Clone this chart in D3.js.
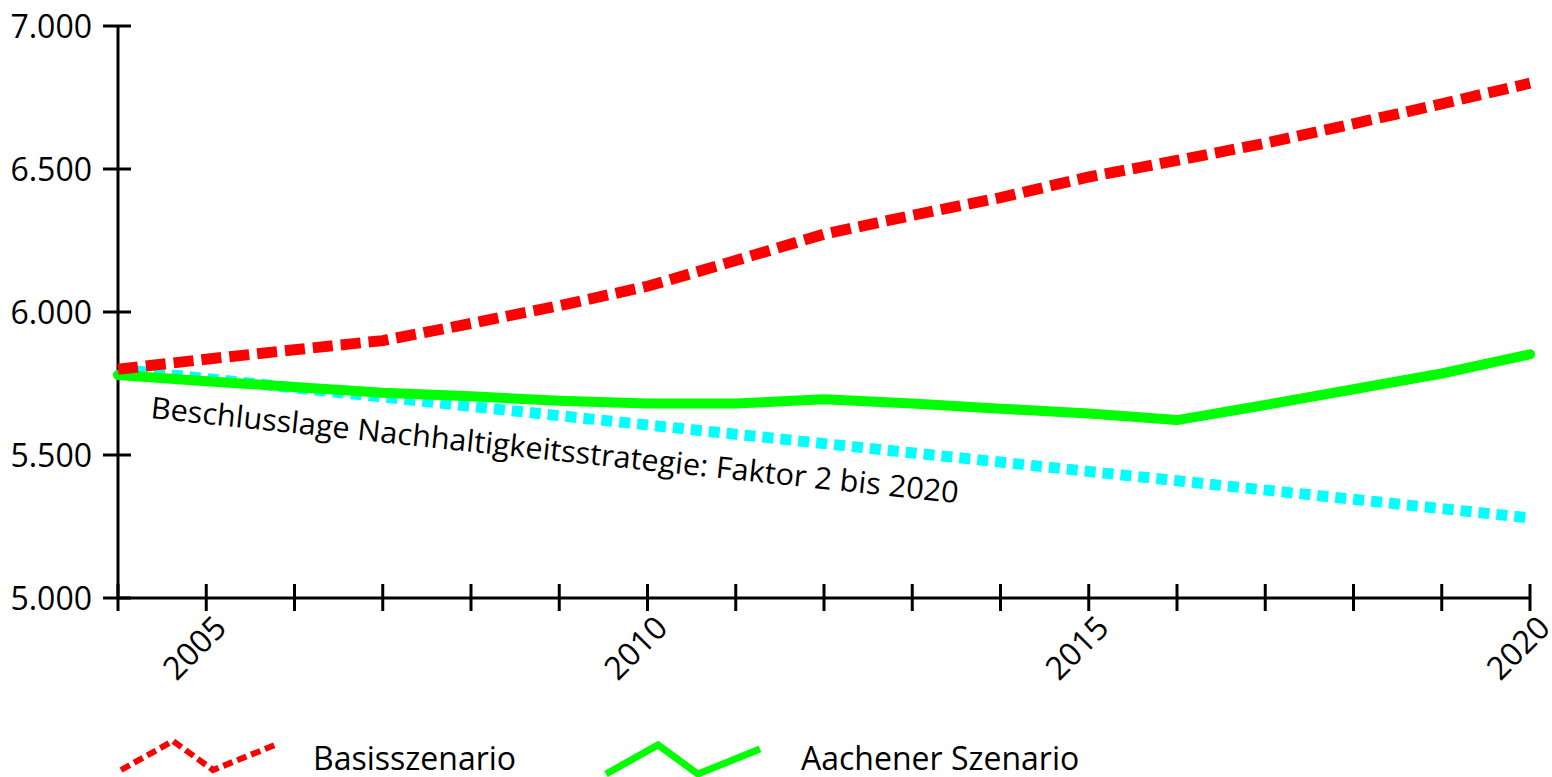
<!DOCTYPE html>
<html><head><meta charset="utf-8">
<script src="https://cdn.jsdelivr.net/npm/d3@7"></script>
<style>
html,body{margin:0;padding:0;background:#fff;}
svg{display:block;}
text{font-family:"Open Sans","Noto Sans",sans-serif;fill:#000;}
</style></head>
<body><svg id="c" width="1552" height="777"></svg>
<script>
const years = [2004,2005,2006,2007,2008,2009,2010,2011,2012,2013,2014,2015,2016,2017,2018,2019,2020];
const basis = [5800,5835,5868,5900,5960,6022,6090,6180,6272,6338,6400,6472,6530,6590,6658,6728,6800];
const aachen = [5780,5758,5738,5718,5705,5690,5680,5680,5695,5680,5662,5645,5622,5675,5730,5785,5852];
const faktorYears = [2004,2020];
const faktor = [5800,5280];
const yTicks = [5000,5500,6000,6500,7000];
const xLabelYears = [2005,2010,2015,2020];
const labelText = "Beschlusslage Nachhaltigkeitsstrategie: Faktor 2 bis 2020";
const legendNames = ["Basisszenario","Aachener Szenario"];

const svg = d3.select("#c");
const x = d3.scaleLinear().domain([2004,2020]).range([118,1530]);
const y = d3.scaleLinear().domain([5000,7000]).range([598,26]);
const fmt = d => d3.format(",")(d).replace(/,/g,".");

// axes
const yAxis = svg.append("g").attr("transform","translate(118,0)")
  .call(d3.axisLeft(y).tickValues(yTicks).tickSize(0).tickFormat(fmt));
yAxis.select(".domain").remove();
yAxis.selectAll("text").attr("x",-26).attr("dy","0.35em").style("font-size","32px").style("font-family","'Open Sans',sans-serif");
svg.append("g").selectAll("line").data(yTicks).join("line")
  .attr("x1",103).attr("x2",131).attr("y1",d=>y(d)).attr("y2",d=>y(d))
  .attr("stroke","#000").attr("stroke-width",3);
svg.append("line").attr("x1",118).attr("x2",118).attr("y1",y(7000)).attr("y2",y(5000))
  .attr("stroke","#000").attr("stroke-width",3);

svg.append("line").attr("x1",x(2004)).attr("x2",x(2020)).attr("y1",y(5000)).attr("y2",y(5000))
  .attr("stroke","#000").attr("stroke-width",3);
svg.append("g").selectAll("line").data(years).join("line")
  .attr("x1",d=>x(d)).attr("x2",d=>x(d)).attr("y1",584).attr("y2",611)
  .attr("stroke","#000").attr("stroke-width",3);
svg.append("g").selectAll("text").data(xLabelYears).join("text")
  .attr("transform",d=>`translate(${x(d)+14},${622}) rotate(-45)`)
  .attr("text-anchor","end").attr("dy","0.35em")
  .style("font-size","32px").text(d=>d);

// lines
const line = d3.line().x(d=>x(d[0])).y(d=>y(d[1]));
const faktorData = d3.zip(faktorYears,faktor);
svg.append("path").datum(faktorData).attr("d",line).attr("fill","none")
  .attr("stroke","#00ffff").attr("stroke-width",11).attr("stroke-dasharray","11,7");
svg.append("path").datum(d3.zip(years,aachen)).attr("d",line).attr("fill","none")
  .attr("stroke","#00ff00").attr("stroke-width",10).attr("stroke-linecap","round").attr("stroke-linejoin","round");
svg.append("path").datum(d3.zip(years,basis)).attr("d",line).attr("fill","none")
  .attr("stroke","#ff0000").attr("stroke-width",11).attr("stroke-dasharray","20,8");

// rotated label
const ang = Math.atan2(y(faktor[1])-y(faktor[0]), x(faktorYears[1])-x(faktorYears[0]))*180/Math.PI;
svg.append("text").attr("transform",`translate(150,418) rotate(${ang})`)
  .attr("textLength",812).attr("lengthAdjust","spacingAndGlyphs")
  .style("font-size","30px").text(labelText);

// legend
const lg = svg.append("g");
const zig = [[0,29],[52,0],[92,29],[154,4]];
const legendDefs = [
  {x0:121, y0:741, color:"#ff0000", dash:"10,5", w:6, tx:313},
  {x0:606, y0:745, color:"#00ff00", dash:null, w:7, tx:801}
];
legendDefs.forEach((L,i)=>{
  lg.append("path").attr("d",d3.line()(zig.map(p=>[L.x0+p[0],L.y0+p[1]])))
    .attr("fill","none").attr("stroke",L.color).attr("stroke-width",L.w)
    .attr("stroke-dasharray",L.dash);
  lg.append("text").attr("x",L.tx).attr("y",770).style("font-size","32px").text(legendNames[i]);
});
</script></body></html>
